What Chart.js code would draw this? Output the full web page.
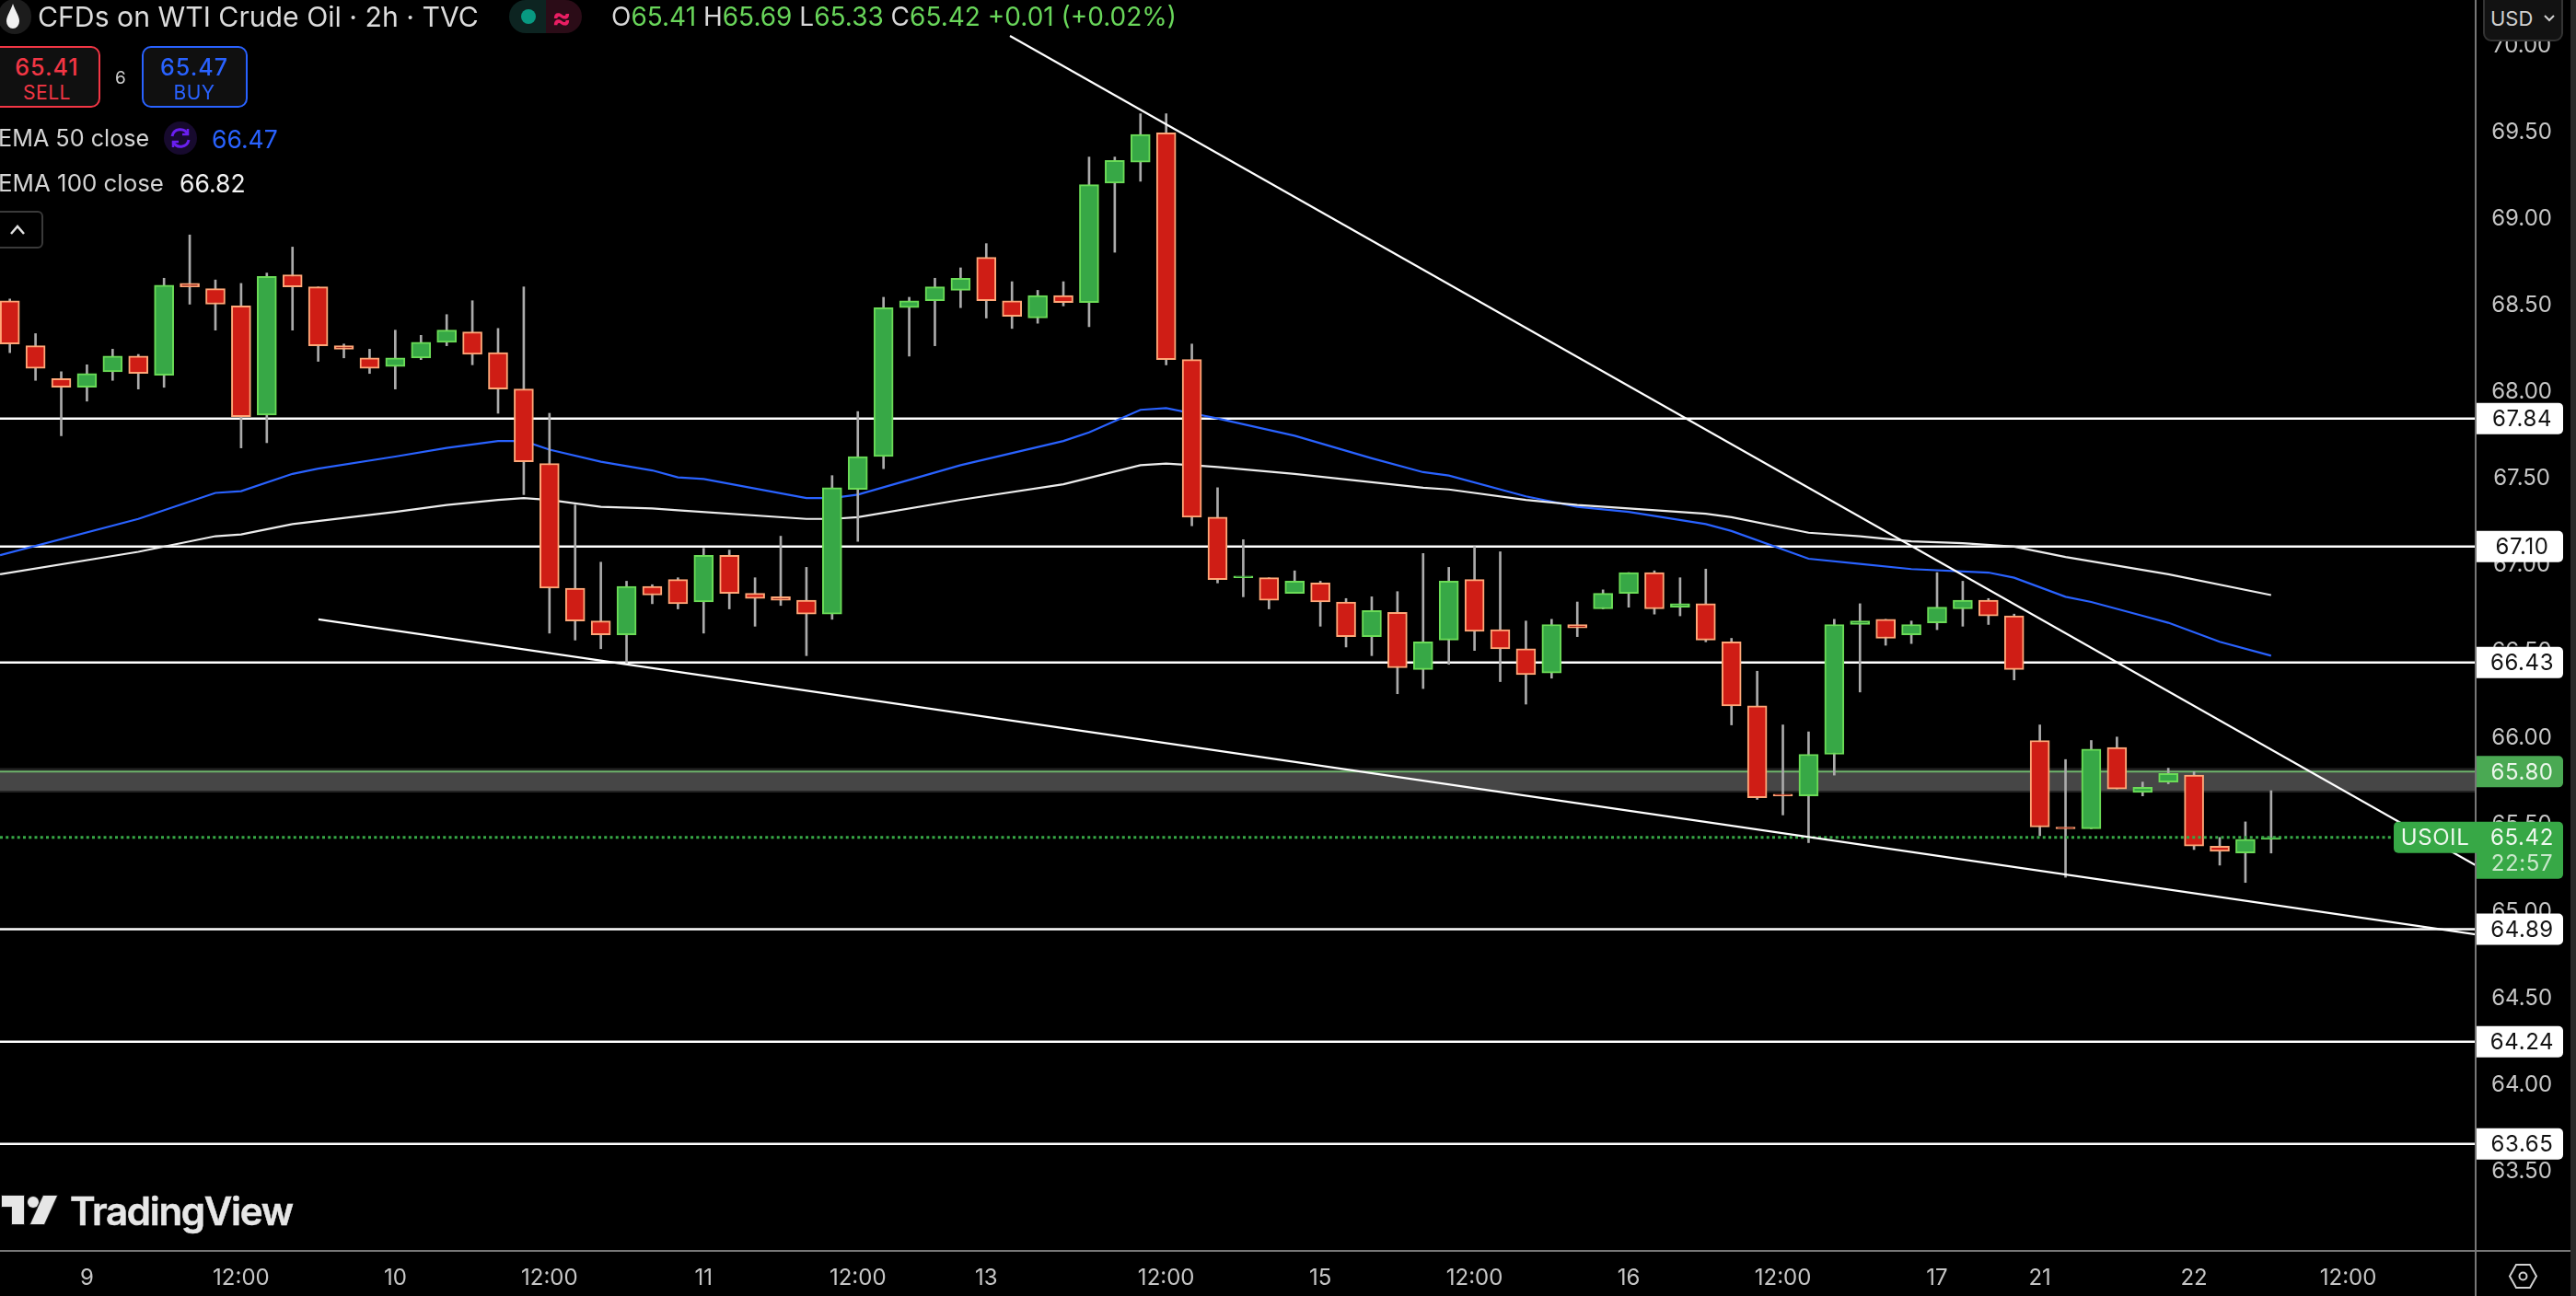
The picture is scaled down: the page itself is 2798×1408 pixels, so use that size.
<!DOCTYPE html>
<html>
<head>
<meta charset="utf-8">
<title>CFDs on WTI Crude Oil</title>
<script src="https://cdn.jsdelivr.net/npm/chart.js@4/dist/chart.umd.min.js"></script>
<style>
    html, body { margin: 0; padding: 0; background: #000; overflow: hidden; }
    #stage { position: relative; width: 2798px; height: 1408px; overflow: hidden; font-family: Inter, sans-serif; }
    canvas { position: absolute; left: 0; top: 0; }
    .t { position: absolute; white-space: nowrap; line-height: 1; transform: translateY(-50%); }
    .c { transform: translate(-50%, -50%); text-align: center; }
    .box { position: absolute; box-sizing: border-box; }
    svg { position: absolute; overflow: visible; }
</style>
</head>
<body>
<div id="stage">
    <canvas id="chart" width="2798" height="1408"></canvas>

    <!-- symbol row -->
    <div class="box" style="left:-2px;top:-1px;width:36px;height:38px;border-radius:18px;background:#1c1c1c"></div>
    <svg style="left:6px;top:3px" width="16" height="30" viewBox="0 0 16 30"><path d="M8 1 C10 8 15 14 15 20 A7 8 0 0 1 1 20 C1 14 6 8 8 1 Z" fill="#f2f2f2"/></svg>
    <div class="t" style="left:41px;top:18px;font-size:30.2px;color:#dcdcdc" id="title">CFDs on WTI Crude Oil · 2h · TVC</div>
    <div class="box" style="left:553px;top:0;width:40px;height:36px;border-radius:18px 0 0 18px;background:#0d2421"></div>
    <div class="box" style="left:593px;top:0;width:39px;height:36px;border-radius:0 18px 18px 0;background:#2b0c17"></div>
    <div class="box" style="left:566px;top:10px;width:16px;height:16px;border-radius:8px;background:#089981"></div>
    <div class="t c" style="left:610px;top:18px;font-size:31px;font-weight:700;color:#e91e63">≈</div>
    <div class="t" style="left:664px;top:18px;font-size:28px;color:#d8d8d8" id="ohlc"></div>

    <!-- trade buttons -->
    <div class="box" style="left:-10px;top:50px;width:119px;height:67px;border:2px solid #f23645;border-radius:10px;background:#101010"></div>
    <div class="t c" style="left:51px;top:73px;font-size:25px;font-weight:500;letter-spacing:1px;color:#f23645">65.41</div>
    <div class="t c" style="left:51px;top:100px;font-size:21px;letter-spacing:0.5px;color:#f23645">SELL</div>
    <div class="t c" style="left:131px;top:84px;font-size:19px;color:#cfcfcf">6</div>
    <div class="box" style="left:154px;top:50px;width:115px;height:67px;border:2px solid #2962ff;border-radius:10px;background:#101010"></div>
    <div class="t c" style="left:211px;top:73px;font-size:25px;font-weight:500;letter-spacing:1px;color:#2962ff">65.47</div>
    <div class="t c" style="left:211px;top:100px;font-size:21px;letter-spacing:0.5px;color:#2962ff">BUY</div>

    <!-- indicator legend -->
    <div class="t" style="left:-2px;top:151px;font-size:25.2px;color:#d4d4d4">EMA 50 close</div>
    <div class="box" style="left:178px;top:132px;width:36px;height:36px;border-radius:18px;background:#170a2e"></div>
    <svg style="left:184px;top:138px" width="24" height="24" viewBox="0 0 24 24" fill="none" stroke="#6a1ff0" stroke-width="3"><path d="M3 10 A9 9 0 0 1 20 8"/><path d="M21 14 A9 9 0 0 1 4 16"/><path d="M20 2 V8 H14" stroke-width="2.5"/><path d="M4 22 V16 H10" stroke-width="2.5"/></svg>
    <div class="t" style="left:230px;top:151px;font-size:26.5px;color:#2962ff">66.47</div>
    <div class="t" style="left:-2px;top:199px;font-size:25.9px;color:#d4d4d4">EMA 100 close</div>
    <div class="t" style="left:195px;top:199px;font-size:26.5px;color:#f2f2f2">66.82</div>
    <div class="box" style="left:-10px;top:229px;width:57px;height:41px;border:2px solid #3a3a3a;border-radius:6px;background:#000"></div>
    <svg style="left:11px;top:244px" width="16" height="12" viewBox="0 0 16 12" fill="none" stroke="#e0e0e0" stroke-width="2.5"><path d="M1 10 L8 2 L15 10"/></svg>

    <!-- currency button -->
    <div class="box" style="left:2697px;top:-8px;width:87px;height:53px;border:2px solid #333;border-radius:9px;background:#121212"></div>
    <div class="t" style="left:2705px;top:20px;font-size:22px;color:#d0d0d0">USD</div>
    <svg style="left:2763px;top:16px" width="12" height="8" viewBox="0 0 12 8" fill="none" stroke="#d0d0d0" stroke-width="2"><path d="M1 1 L6 6 L11 1"/></svg>

    <!-- watermark -->
    <svg style="left:2px;top:1299px" width="60" height="31" viewBox="0 0 60 31"><g fill="#e6e6e6" stroke="#1d1d1d" stroke-width="2" paint-order="stroke"><path d="M0 0 H24 V31 H11 V12 H0 Z"/><circle cx="34" cy="7" r="6"/><path d="M45 0 H60 L46 31 H31 Z"/></g></svg>
    <div class="t" style="left:76px;top:1316px;font-size:42px;font-weight:600;letter-spacing:-1.3px;color:#e6e6e6;-webkit-text-stroke:0.5px #e6e6e6">TradingView</div>

    <!-- settings icon -->
    <svg style="left:2725px;top:1373px" width="31" height="27" viewBox="0 0 31 27" fill="none" stroke="#d0d0d0" stroke-width="2"><path d="M8 1 H23 L30 13.5 L23 26 H8 L1 13.5 Z"/><circle cx="15.5" cy="13.5" r="4"/></svg>
</div>

<script>
// ─── Price data (2h candles, oldest first) ──────────────────────────
const opens = [68.52,68.26,68.07,68.02,68.11,68.20,68.09,68.62,68.59,68.49,67.86,68.67,68.60,68.26,68.19,68.14,68.19,68.28,68.34,68.22,68.01,67.58,66.86,66.67,66.59,
    66.87,66.91,66.78,67.05,66.83,66.81,66.79,66.71,67.43,67.62,68.48,68.52,68.58,68.77,68.52,68.42,68.55,68.51,69.20,69.32,69.49,68.18,67.27,66.92,66.92,
    66.83,66.89,66.78,66.58,66.72,66.39,66.56,66.91,66.62,66.51,66.37,66.65,66.74,66.83,66.95,66.75,66.77,66.55,66.18,65.67,65.66,65.90,66.65,66.68,66.59,
    66.66,66.74,66.79,66.70,65.98,65.48,65.47,65.94,65.68,65.74,65.78,65.37,65.33,65.41];
const highs = [68.53,68.33,68.11,68.15,68.24,68.21,68.65,68.90,68.64,68.62,68.68,68.83,68.60,68.27,68.24,68.35,68.32,68.44,68.52,68.36,68.60,67.87,67.34,67.01,66.90,
    66.88,66.92,67.09,67.08,66.92,67.16,66.98,67.51,67.88,68.54,68.54,68.65,68.71,68.85,68.63,68.58,68.63,69.35,69.35,69.60,69.60,68.27,67.44,67.14,66.92,
    66.96,66.90,66.80,66.81,66.84,67.06,66.98,67.10,67.07,66.67,66.68,66.78,66.85,66.95,66.96,66.92,66.97,66.57,66.38,66.07,66.03,66.68,66.77,66.68,66.67,
    66.95,66.90,66.80,66.71,66.07,65.87,65.98,66.00,65.74,65.82,65.80,65.42,65.51,65.69];
const lows = [68.22,68.06,67.74,67.94,68.06,68.01,68.02,68.50,68.35,67.67,67.70,68.35,68.17,68.19,68.10,68.01,68.18,68.26,68.15,67.87,67.40,66.60,66.56,66.51,66.42,
    66.77,66.74,66.60,66.74,66.64,66.76,66.47,66.68,67.13,67.55,68.20,68.26,68.48,68.42,68.36,68.39,68.49,68.37,68.80,69.21,68.15,67.22,66.89,66.81,66.74,
    66.83,66.64,66.52,66.47,66.25,66.28,66.42,66.50,66.32,66.19,66.34,66.58,66.74,66.75,66.71,66.70,66.55,66.07,65.64,65.55,65.39,65.78,66.26,66.53,66.54,
    66.62,66.64,66.65,66.33,65.43,65.19,65.47,65.70,65.66,65.73,65.35,65.26,65.16,65.33];
const closes = [68.27,68.13,68.02,68.10,68.20,68.10,68.61,68.60,68.50,67.85,68.66,68.60,68.26,68.24,68.13,68.19,68.28,68.35,68.21,68.01,67.59,66.86,66.67,66.59,66.87,
    66.82,66.77,67.05,66.83,66.80,66.79,66.71,67.44,67.62,68.48,68.52,68.60,68.65,68.52,68.43,68.55,68.51,69.19,69.33,69.48,68.18,67.27,66.91,66.93,66.79,
    66.90,66.78,66.58,66.73,66.40,66.55,66.90,66.61,66.51,66.36,66.65,66.63,66.83,66.95,66.74,66.77,66.56,66.18,65.65,65.66,65.90,66.65,66.67,66.57,66.65,
    66.75,66.79,66.70,66.39,65.48,65.47,65.93,65.70,65.71,65.79,65.37,65.34,65.41,65.42];

// ─── Moving averages (read at the bar index where the curve bends) ──
const ema50Bars = [-0.38,5,8,9,11,12,15,17,19,20,21,23,25,26,27,31,32,33,37,41,42,44,45,46,47,50,53,55,56,59,61,63,66,67,70,72,74,77,78,80,81,83,84,86,88];
const ema50 = [67.05,67.26,67.41,67.42,67.52,67.55,67.62,67.67,67.71,67.71,67.66,67.59,67.54,67.50,67.49,67.38,67.38,67.40,67.57,67.71,67.76,67.89,67.90,67.87,67.84,67.74,67.61,67.53,67.51,67.39,67.33,67.30,67.23,67.19,67.03,67.00,66.97,66.95,66.92,66.81,66.78,66.70,66.66,66.55,66.47];
const ema100Bars = [-0.38,5,8,9,11,15,17,19,20,21,23,25,26,31,32,33,37,41,44,45,46,47,50,55,56,59,61,63,66,67,70,72,74,76,78,80,84,88];
const ema100 = [66.94,67.07,67.16,67.17,67.23,67.30,67.34,67.37,67.38,67.37,67.33,67.32,67.31,67.26,67.26,67.27,67.37,67.46,67.57,67.58,67.57,67.56,67.52,67.44,67.43,67.37,67.34,67.32,67.29,67.27,67.18,67.16,67.13,67.12,67.10,67.04,66.94,66.82];

// ─── Drawn levels, trend lines, axes ────────────────────────────────
const levels = [67.84, 67.10, 66.43, 64.89, 64.24, 63.65];
const zoneLevel = 65.80;
const zoneInner = [65.80, 65.69];
const zoneOuter = [65.82, 65.68];
const lastPrice = 65.42;
const upperTrendBars = [38.92, 95.96];
const upperTrend = [70.05, 65.26];
const lowerTrendBars = [12.01, 95.96];
const lowerTrend = [66.68, 64.86];

const xMin = -0.383;
const xMax = 95.96;
const yMin = 63.032;
const yMax = 70.257;
const yTicks = [63.5, 64, 64.5, 65, 65.5, 66, 66.5, 67, 67.5, 68, 68.5, 69, 69.5, 70];
const xTicks = [3, 9, 15, 21, 27, 33, 38, 45, 51, 57, 63, 69, 75, 79, 85, 91];
const xTickLabels = ['9', '12:00', '10', '12:00', '11', '12:00', '13', '12:00', '15', '12:00', '16', '12:00', '17', '21', '22', '12:00'];

const upFill = '#37a846', upEdge = '#6bdc57';
const downFill = '#cf1d15', downEdge = '#ffa778';
const wickColor = '#ababab';
const axisColor = '#777777';
const labelColor = '#c6c6c6';
const tagFont = '24px Inter, sans-serif';

// ─── Header text ────────────────────────────────────────────────────
const ohlcParts = [['O', '65.41'], ['H', '65.69'], ['L', '65.33'], ['C', '65.42']];
document.getElementById('ohlc').innerHTML = ohlcParts
    .map(p => `${p[0]}<span style="color:#69d65a">${p[1]}</span>`).join('&nbsp;')
    + '&nbsp;<span style="color:#69d65a">+0.01 (+0.02%)</span>';

// ─── Dataset helpers ────────────────────────────────────────────────
const isUp = i => closes[i] >= opens[i];

function pairs(xs, ys) {
    return xs.map((x, i) => ({ x, y: ys[i] }));
}

function lineSet(data, color, width, order, extra) {
    return Object.assign({
        type: 'line', data, borderColor: color, borderWidth: width, order,
        pointRadius: 0, tension: 0, fill: false
    }, extra || {});
}

function hLine(value, color, width, order, extra, toX) {
    return lineSet(pairs([xMin, toX === undefined ? xMax : toX], [value, value]), color, width, order, extra);
}

function zoneSet(range, color, order) {
    return hLine(range[0], 'rgba(0,0,0,0)', 0, order, { fill: { value: range[1] }, backgroundColor: color });
}

// the axes fill the canvas edge to edge, so no room is kept for half labels
function noScalePadding(axis) {
    axis.paddingTop = 0;
    axis.paddingBottom = 0;
    axis.paddingLeft = 0;
    axis.paddingRight = 0;
}

// ─── Frame and price tags, placed through the y scale ───────────────
function tag(ctx, x, w, yTop, h, color, radii) {
    ctx.fillStyle = color;
    ctx.beginPath();
    ctx.roundRect(x, yTop, w, h, radii);
    ctx.fill();
}

const framePlugin = {
    id: 'frame',
    afterDraw(chart) {
        const ctx = chart.ctx;
        const y = chart.scales.y;
        const area = chart.chartArea;
        const tagX = area.right + 1;
        const tagW = 94;
        const midX = tagX + 49.5;

        ctx.save();
        ctx.fillStyle = '#2a2a2a';
        ctx.fillRect(2792, 0, 6, chart.height);
        ctx.fillStyle = axisColor;
        ctx.fillRect(area.right - 1, 0, 2, chart.height);
        ctx.fillRect(0, area.bottom - 1, 2792, 2);

        ctx.font = tagFont;
        ctx.letterSpacing = '0.6px';
        ctx.textAlign = 'center';
        ctx.textBaseline = 'middle';

        levels.forEach(v => {
            const py = y.getPixelForValue(v);
            tag(ctx, tagX, tagW, py - 17, 34, '#ffffff', [0, 5, 5, 0]);
            ctx.fillStyle = '#131313';
            ctx.fillText(v.toFixed(2), midX, py + 1);
        });

        const zy = y.getPixelForValue(zoneLevel);
        tag(ctx, tagX, tagW, zy - 17, 34, '#4aa953', [0, 5, 5, 0]);
        ctx.fillStyle = '#eaf6ea';
        ctx.fillText(zoneLevel.toFixed(2), midX, zy + 1);

        const ly = y.getPixelForValue(lastPrice);
        tag(ctx, tagX - 90, 90, ly - 17, 34, '#37a846', [5, 0, 0, 5]);
        tag(ctx, tagX, tagW, ly - 17, 62, '#37a846', [0, 5, 5, 0]);
        ctx.fillStyle = '#eef8ee';
        ctx.fillText('USOIL', tagX - 45, ly + 1);
        ctx.fillText(lastPrice.toFixed(2), midX, ly + 1);
        ctx.fillStyle = '#c9e8cb';
        ctx.fillText('22:57', midX, ly + 29);
        ctx.restore();
    }
};

// ─── Chart ──────────────────────────────────────────────────────────
const bars = opens.map((_, i) => i);

new Chart(document.getElementById('chart').getContext('2d'), {
    type: 'bar',
    data: {
        datasets: [
            zoneSet(zoneOuter, '#232323', 9),
            zoneSet(zoneInner, '#464646', 8),
            hLine(zoneLevel, '#6fb56c', 2, 7),
            ...levels.map(v => hLine(v, '#ffffff', 2.5, 6)),
            lineSet(pairs(ema100Bars, ema100), '#ececec', 2.2, 5),
            lineSet(pairs(ema50Bars, ema50), '#2962ff', 2.2, 5),
            {
                label: 'wicks',
                data: bars.map(i => ({ x: i, y: [lows[i], highs[i]] })),
                backgroundColor: wickColor,
                borderWidth: 0,
                barThickness: 2,
                grouped: false,
                order: 4
            },
            {
                label: 'bodies',
                data: bars.map(i => ({ x: i, y: [opens[i], closes[i]] })),
                backgroundColor: bars.map(i => isUp(i) ? upFill : downFill),
                borderColor: bars.map(i => isUp(i) ? upEdge : downEdge),
                borderWidth: 2,
                borderSkipped: false,
                barThickness: 21,
                grouped: false,
                order: 3
            },
            hLine(lastPrice, '#37a846', 3, 2, { borderDash: [3, 3.25] }, 92.9),
            lineSet(pairs(upperTrendBars, upperTrend), '#ffffff', 2.2, 1),
            lineSet(pairs(lowerTrendBars, lowerTrend), '#ffffff', 2.2, 1)
        ]
    },
    options: {
        responsive: false,
        animation: false,
        devicePixelRatio: 1,
        layout: { padding: 0 },
        plugins: { legend: { display: false }, tooltip: { enabled: false } },
        scales: {
            x: {
                type: 'linear',
                offset: false,
                min: xMin,
                max: xMax,
                grid: { display: false, drawTicks: false },
                border: { display: false },
                afterBuildTicks: axis => { axis.ticks = xTicks.map(value => ({ value })); },
                afterFit: axis => { axis.height = 49; noScalePadding(axis); },
                ticks: {
                    autoSkip: false,
                    maxRotation: 0,
                    padding: 15,
                    color: labelColor,
                    font: { family: 'Inter, sans-serif', size: 24 },
                    callback: v => xTickLabels[xTicks.indexOf(v)]
                }
            },
            y: {
                position: 'right',
                min: yMin,
                max: yMax,
                grid: { display: false, drawTicks: false },
                border: { display: false },
                afterBuildTicks: axis => { axis.ticks = yTicks.map(value => ({ value })); },
                afterFit: axis => { axis.width = 109; noScalePadding(axis); },
                ticks: {
                    crossAlign: 'center',
                    padding: 17,
                    labelOffset: 1.5,
                    color: labelColor,
                    font: { family: 'Inter, sans-serif', size: 24 },
                    callback: v => v.toFixed(2)
                }
            }
        }
    },
    plugins: [framePlugin]
});
</script>
</body>
</html>
